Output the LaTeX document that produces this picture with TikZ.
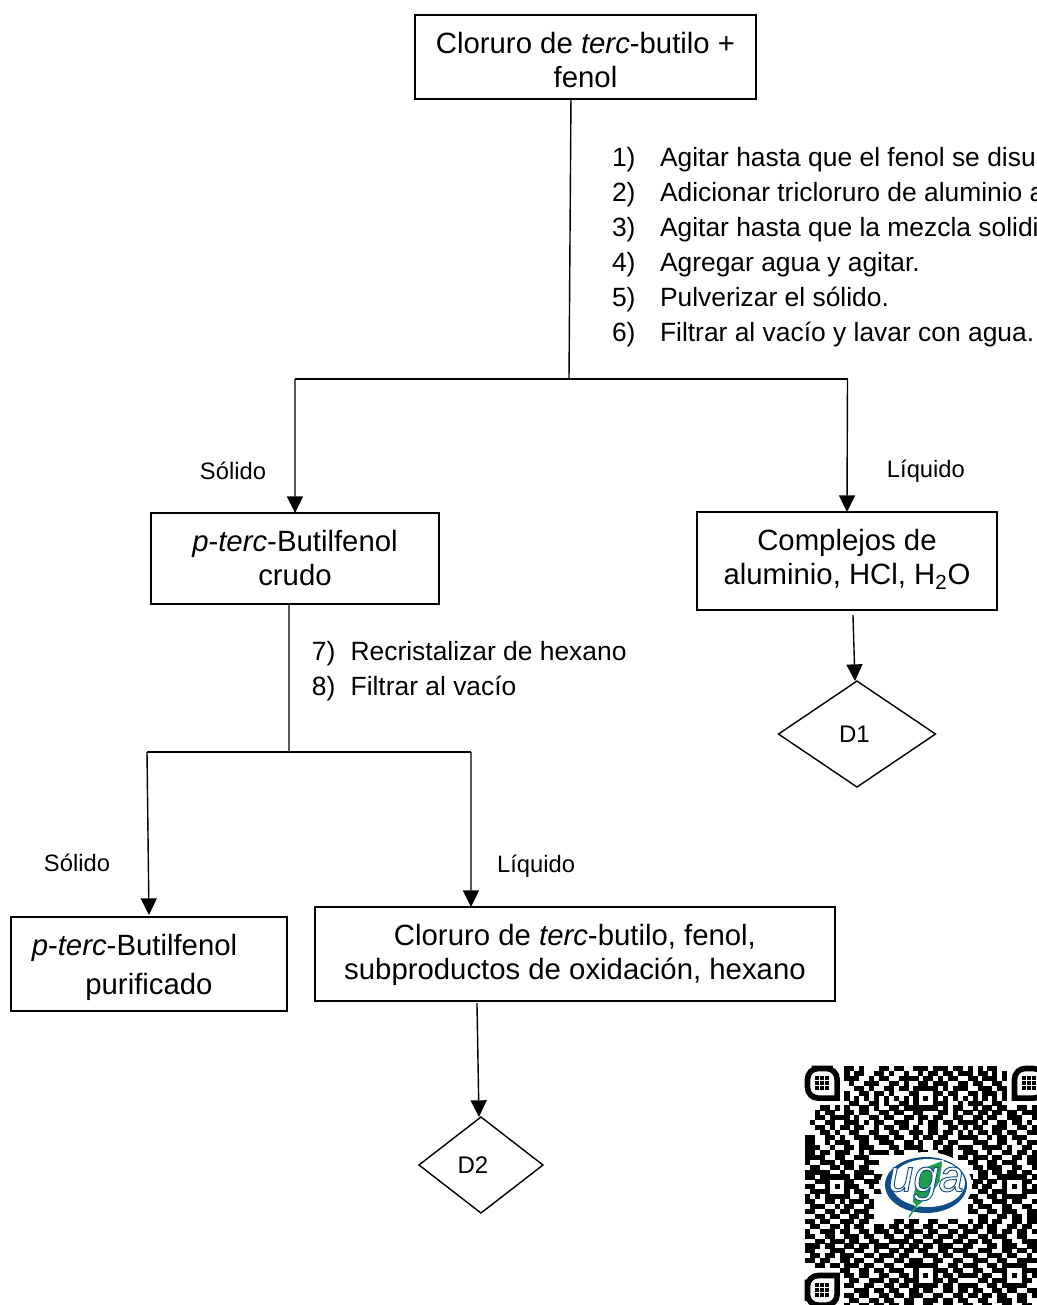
\documentclass[tikz,border=0pt]{standalone}
\usepackage{fontspec}
\setmainfont{Liberation Sans}
\usetikzlibrary{positioning}
\usetikzlibrary{shapes.geometric}
\usetikzlibrary{arrows.meta}

\definecolor{ugablue}{HTML}{0F4C8A}
\definecolor{ugagreen}{HTML}{1E9E4A}

\tikzset{
  boxnode/.style={draw, line width=1.05pt, inner sep=0pt, outer sep=0pt, align=center,
    font=\fontsize{22}{25.5}\selectfont},
  decnode/.style={draw, diamond, line width=1.05pt, inner sep=0pt, outer sep=0pt,
    font=\fontsize{18}{22}\selectfont},
  stepnode/.style={inner sep=0pt, outer sep=0pt, align=left,
    font=\fontsize{19.8}{26.25}\selectfont},
  phasenode/.style={inner sep=0pt, outer sep=0pt, font=\fontsize{17.8}{22}\selectfont},
  plainline/.style={line width=1.05pt},
  arrowline/.style={line width=1.05pt, -{Triangle[length=12.5pt,width=12pt]}},
  qrring/.style={line width=4.2pt}
}

% One row of the code, read bit by bit
\newcount\qrcol
\def\qrbit#1{\ifx#1;\let\qrnext\relax\else
  \if#11\fill (805+4.93*\the\qrcol,1066+4.93*\i) rectangle +(5.05,5.05);\fi
  \advance\qrcol by 1 \let\qrnext\qrbit\fi\qrnext}
% Corner square of the code: centre, turn
\newcommand{\qrfinder}[3]{
  \begin{scope}[shift={(#1,#2)},rotate=#3]
    \draw[qrring] (0,-14.8) [rounded corners=8pt] -- (-14.8,-14.8) -- (-14.8,14.8)
      [sharp corners] -- (14.8,14.8) [rounded corners=8pt] -- (14.8,-14.8) -- cycle;
    \foreach \dx in {-5,0,5}
      \foreach \dy in {-5,0,5}
        \fill (\dx-2.1,\dy-2.1) rectangle +(4.2,4.2);
  \end{scope}
}

\begin{document}
\begin{tikzpicture}[x=.75pt,y=-.75pt]
    \useasboundingbox (0,0) rectangle (1037,1305);
    \clip (0,0) rectangle (1037,1305);

    % Define nodes
    \node[boxnode, minimum width=255.75pt, minimum height=63pt] (a) at (585.5,57)
      {\rule{0pt}{20.5pt}Cloruro de \textit{terc}-butilo +\\fenol};
    \node[boxnode, minimum width=216pt, minimum height=68.25pt, below=310.5pt of a, xshift=-217.9pt] (b)
      {\textit{p}-\textit{terc}-Butilfenol\\crudo};
    \node[boxnode, minimum width=225pt, minimum height=73.5pt, right=193.5pt of b, yshift=-1.9pt] (c)
      {Complejos de\\aluminio, HCl, H\textsubscript{2}O\rule[-6.5pt]{0pt}{6.5pt}};
    \node[boxnode, minimum width=207pt, minimum height=70.5pt, below=234.75pt of b, xshift=-109.5pt] (d)
      {\rule{0pt}{20.5pt}\textit{p}-\textit{terc}-Butilfenol\hspace*{21.75pt}\\[3.75pt]purificado};
    \node[boxnode, minimum width=390pt, minimum height=70.5pt, right=21pt of d, yshift=7.5pt] (e)
      {\rule{0pt}{17.5pt}Cloruro de \textit{terc}-butilo, fenol,\\subproductos de oxidación, hexano};
    \node[decnode, aspect=1.48, minimum width=117.75pt, minimum height=79.5pt, below=53.25pt of c, xshift=7.5pt] (dd1)
      {D1\hspace*{3.75pt}};
    \node[decnode, aspect=1.29, minimum width=93pt, minimum height=72pt, below=87pt of e, xshift=-70.5pt] (dd2)
      {D2\hspace*{12pt}};

    % Steps and phases
    \node[stepnode, below right=36.25pt and 19.9pt of a.south] (stepsa)
      {\makebox[36pt][l]{1)}Agitar hasta que el fenol se disu\\
       \makebox[36pt][l]{2)}Adicionar tricloruro de aluminio a\\
       \makebox[36pt][l]{3)}Agitar hasta que la mezcla solidi\\
       \makebox[36pt][l]{4)}Agregar agua y agitar.\\
       \makebox[36pt][l]{5)}Pulverizar el sólido.\\
       \makebox[36pt][l]{6)}Filtrar al vacío y lavar con agua.};
    \node[stepnode, below right=27.75pt and 12.75pt of b.south] (stepsb)
      {\makebox[29pt][l]{7)}Recristalizar de hexano\\
       \makebox[29pt][l]{8)}Filtrar al vacío};
    \node[phasenode, above left=24.75pt and 21.75pt of b.north] (solb) {Sólido};
    \node[phasenode, above right=22.5pt and 30pt of c.north] (liqc) {Líquido};
    \node[phasenode, above left=33.75pt and 29.25pt of d.north] (sold) {Sólido};
    \node[phasenode, above left=22.5pt and 0pt of e.north] (liqe) {Líquido};

    % Branch points
    \coordinate (ja) at (569,379);
    \coordinate (jal) at (295,379);
    \coordinate (jar) at (847.5,379);
    \coordinate (jb) at (289,752);
    \coordinate (jbl) at (147,752);
    \coordinate (jbr) at (471,752);

    % Connect the nodes
    \draw[plainline] ([xshift=-10.9pt]a.south) -- (ja);
    \draw[plainline] (jal) -- (jar);
    \draw[arrowline] (jal) -- (b.north);
    \draw[arrowline] (jar) -- (c.north);
    \draw[plainline] ([xshift=-4.5pt]b.south) -- (jb);
    \draw[plainline] (jbl) -- (jbr);
    \draw[arrowline] (jbl) -- ([yshift=1.5pt]d.north);
    \draw[arrowline] (jbr) -- ([xshift=-78pt]e.north);
    \draw[arrowline] ([xshift=4.5pt,yshift=-3.75pt]c.south) -- ([xshift=-1.5pt]dd1.north);
    \draw[arrowline] ([xshift=-73.5pt,yshift=-1.5pt]e.south) -- ([xshift=-1.5pt]dd2.north);

    % Code in the corner
    \foreach \r [count=\i from 0] in {
      0000000011010001101100111011101101010110000000,
      0000000010110011010010010110110111011010100000000,
      0000000011100101100111101101011001101110100000000,
      0000000001001110011010011011100110110011000000000,
      0000000000110100110110111110101110011101100000000,
      0000000010011011010001100011011001101110100000000,
      0000000010101010101010101010101010101010100000000,
      0000000001100110100110100011100101110011000000000,
      0001101010011010011011111110101100101101100110110,
      0010110011011001101100110001101011011011011011100,
      0011011110100110110011011011001100110110011100110,
      0100110011101011001110010110110111101001101101011,
      0011010110110010110110100110011010110011100110110,
      0001101001100110011001110110110101011011011001101,
      1100110100111011101100101101100111100101101110010,
      1100101110011001110011010011011000111001100101101,
      1110010011011100011011110010110111001111010011011,
      1101101110010111101100011001110011100100110110110,
      1111001100111000000000000000110110111011001101101,
      1001110111001110000000000000000001100110111001101,
      0110011011011000000000000000000000110111001100111,
      1111100100111100000000000000000000011011011011010,
      1101111110110011000000000000000001011001111110110,
      0011100011001110000000000000000000110110100011011,
      1100101011100100000000000000000001101100101010110,
      0111100010110011000000000000000000011011100011101,
      1010111110011000000000000000000001100110111110011,
      1100110101110100000000000000000000110011101100110,
      0111001011001100000000000000000001011100110011011,
      1100110110111000000000000000000001100110111001100,
      0011011001101100000000000000000000011001101101101,
      1101100111011000001101100110011001011011001101101,
      0110011010110011011011001101100110110110011011010,
      1001110110011011101101110110011011100110110110110,
      1100110011101100110011001101110110011011100110011,
      0011011101100110011110110011001101101100110011101,
      1110110011011011100101101101110011000110111001100,
      1100011100110010011011011001101110011100110110111,
      0110110111001101110110001110110011100111011001001,
      1101100110110011001101110011001100111001100111100,
      0011011011101100110011111110011011100110111110011,
      0000000110011011011100100011101100110011100011101,
      0000000011011001100110101010110111101100101010110,
      0000000001100111011011100011011000011011100011011,
      0000000011001100110110111110110111100110111110010,
      0000000000111011011001101100110110110011011001101,
      0000000011011001101101110011001101101101100110110,
      0000000001100110110011001110110110011001110110011,
      0000000010011011011011001100110011001100110011001}
    {\qrcol=0 \expandafter\qrbit\r;}
    \qrfinder{822.3}{1083.3}{0}
    \qrfinder{1029.3}{1083.3}{-90}
    \qrfinder{822.3}{1290.3}{90}

    % Mark in the middle of the code
    \fill[white] (926,1185) ellipse [x radius=46, y radius=33];
    \fill[ugablue] (926,1185) ellipse [x radius=41, y radius=28];
    \fill[white] (928,1183) ellipse [x radius=37, y radius=24];
    \fill[ugagreen, draw=white, line width=.8pt] (925,1167) -- (943,1160) -- (940,1182) -- (932,1195)
      -- (917,1207) -- (912,1202) -- (915,1185) -- cycle;
    \draw[ugagreen, line width=1.2pt] (917,1205) -- (909,1217);
    \node[inner sep=0pt, font=\fontsize{34}{34}\selectfont\itshape] (uga) at (926,1184)
      {\special{pdf:code q 2 Tr 0.7 w 0.06 0.3 0.54 RG 1 1 1 rg}uga\special{pdf:code Q}};
\end{tikzpicture}
\end{document}
